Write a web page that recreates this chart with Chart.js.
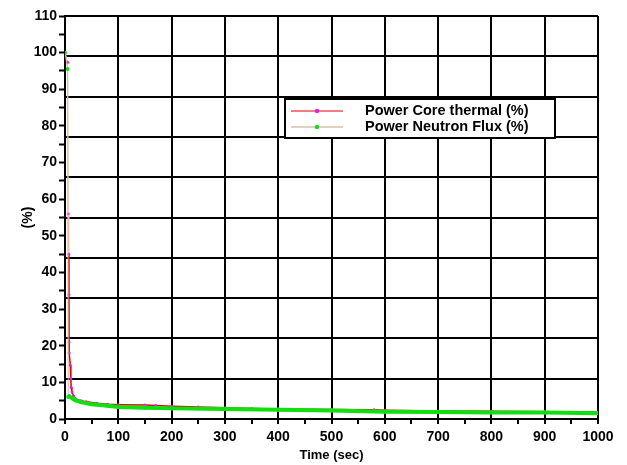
<!DOCTYPE html>
<html>
<head>
<meta charset="utf-8">
<script src="https://cdn.jsdelivr.net/npm/chart.js@4/dist/chart.umd.min.js"></script>
<style>
  html, body { margin: 0; padding: 0; background: #fff; }
  #wrap { width: 627px; height: 465px; }
</style>
</head>
<body>
<div id="wrap"><canvas id="chart"></canvas></div>
<script>
// values
const thermalTime = [0, 5, 6, 7.2, 7.4, 7.6, 7.8, 10, 11, 11.5, 13, 16, 20, 30, 40, 60, 80, 100, 150, 170, 200, 250, 300, 350, 400, 500, 580, 600, 700, 800, 900, 1000];
const thermalPct  = [100, 97.4, 56, 45, 34, 21, 18, 14.7, 11, 8.7, 7.4, 6.3, 5.5, 5.0, 4.7, 4.3, 4.0, 3.9, 3.8, 3.7, 3.5, 3.3, 3.1, 2.9, 2.7, 2.6, 2.5, 2.4, 2.2, 2.1, 2.0, 1.9];

const fluxTime = [0, 5, 6, 8, 15, 20, 30, 50, 80, 100, 150, 200, 300, 400, 500, 600, 700, 800, 900, 1000];
const fluxPct  = [100, 95.5, 6, 6.2, 5.5, 5.1, 4.6, 4.0, 3.6, 3.3, 3.1, 2.9, 2.7, 2.5, 2.3, 2.0, 1.9, 1.8, 1.8, 1.6];

const seriesNames = ['Power Core thermal (%)', 'Power Neutron Flux (%)'];

const toPoints = (xs, ys) => xs.map((x, i) => ({ x: x, y: ys[i] }));

const FONT = "'Liberation Sans', Arial, sans-serif";

// legend drawn by hand: line sample with a marker in the middle
const boxLegend = {
  id: 'boxLegend',
  afterDraw(chart) {
    const ctx = chart.ctx;
    const x = 285, y = 99, w = 270, h = 39;
    ctx.save();
    ctx.fillStyle = '#fff';
    ctx.fillRect(x, y, w, h);
    ctx.strokeStyle = '#000';
    ctx.lineWidth = 2;
    ctx.strokeRect(x, y, w, h);
    const rows = [
      { line: '#e00000', dot: '#e020e0', label: seriesNames[0] },
      { line: '#c8a080', dot: '#10e010', label: seriesNames[1] }
    ];
    ctx.font = 'bold 14.5px ' + FONT;
    ctx.textBaseline = 'middle';
    rows.forEach((r, i) => {
      const ly = y + 12 + i * 16;
      ctx.strokeStyle = r.line;
      ctx.lineWidth = 1;
      ctx.beginPath();
      ctx.moveTo(x + 6, ly);
      ctx.lineTo(x + 58, ly);
      ctx.stroke();
      ctx.fillStyle = r.dot;
      ctx.beginPath();
      ctx.arc(x + 32, ly, 2.2, 0, Math.PI * 2);
      ctx.fill();
      ctx.fillStyle = '#000';
      ctx.fillText(r.label, x + 80, ly);
    });
    ctx.restore();
  }
};

new Chart(document.getElementById('chart'), {
  type: 'line',
  data: {
    datasets: [
      {
        label: seriesNames[0],
        data: toPoints(thermalTime, thermalPct),
        borderColor: '#e00000',
        borderWidth: 1.5,
        pointRadius: 1.5,
        pointBackgroundColor: '#e020e0',
        pointBorderWidth: 0,
        segment: {
          borderColor: c => c.p0.parsed.x < 7 ? '#f0c8b8' : '#e00000',
          borderWidth: c => c.p0.parsed.x < 7 ? 1 : 1.5
        },
        order: 1
      },
      {
        label: seriesNames[1],
        data: toPoints(fluxTime, fluxPct),
        borderColor: '#10e010',
        borderWidth: 4,
        pointRadius: 2,
        pointBackgroundColor: '#10e010',
        pointBorderWidth: 0,
        segment: {
          borderColor: c => c.p0.parsed.x < 6 ? '#d8b898' : '#10e010',
          borderWidth: c => c.p0.parsed.x < 6 ? 1 : 4
        },
        order: 0
      }
    ]
  },
  options: {
    responsive: true,
    maintainAspectRatio: false,
    animation: false,
    events: [],
    layout: { padding: { top: 16, right: 29, left: 0, bottom: 0 } },
    plugins: { legend: { display: false }, tooltip: { enabled: false } },
    scales: {
      x: {
        type: 'linear',
        min: 0, max: 1000,
        afterFit: s => { s.height = 46; },
        ticks: {
          stepSize: 50,
          autoSkip: false,
          maxRotation: 0,
          color: '#000',
          font: { family: FONT, size: 14, weight: 'bold' },
          padding: 5,
          callback: v => v % 100 === 0 ? v : ''
        },
        grid: {
          color: c => c.tick && c.tick.value % 100 === 0 ? '#000' : 'rgba(0,0,0,0)',
          lineWidth: 2,
          tickColor: '#000',
          tickLength: 5,
          tickWidth: 2
        },
        border: { color: '#000', width: 2 },
        title: {
          display: true,
          text: 'Time (sec)',
          color: '#000',
          font: { family: FONT, size: 13, weight: 'bold' },
          padding: { top: 0, bottom: 2 }
        }
      },
      y: {
        min: 0, max: 110,
        afterFit: s => { s.width = 65; },
        ticks: {
          stepSize: 5,
          autoSkip: false,
          color: '#000',
          font: { family: FONT, size: 14, weight: 'bold' },
          padding: 2,
          callback: v => v % 10 === 0 ? v : ''
        },
        grid: {
          drawOnChartArea: false,
          tickColor: '#000',
          tickLength: 6,
          tickWidth: 2
        },
        border: { color: '#000', width: 2 },
        title: {
          display: true,
          text: '(%)',
          color: '#000',
          font: { family: FONT, size: 14, weight: 'bold' },
          padding: { top: 20, bottom: 0 }
        }
      },
      // horizontal grid lines sit every 11 units in the original
      yGrid: {
        position: 'right',
        min: 0, max: 110,
        afterFit: s => { s.width = 0; },
        ticks: { display: false, stepSize: 11 },
        grid: { color: '#000', lineWidth: 2, drawTicks: false },
        border: { display: false }
      }
    }
  },
  plugins: [boxLegend]
});
</script>
</body>
</html>
